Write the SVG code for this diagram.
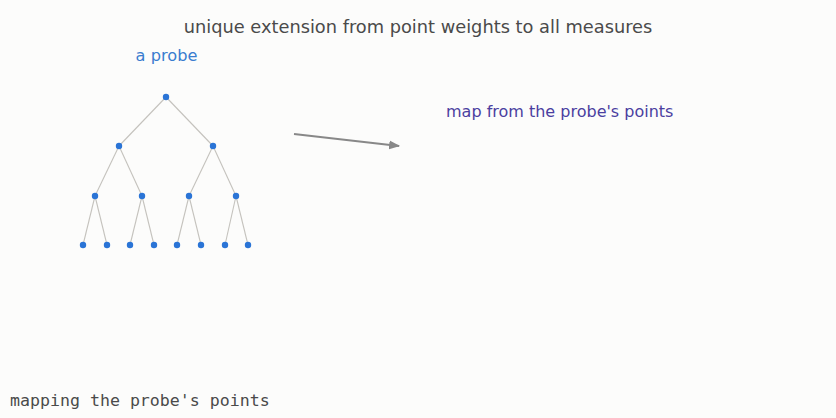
<svg xmlns="http://www.w3.org/2000/svg" width="836" height="418" viewBox="0 0 836 418">
<defs>
<marker id="ah" viewBox="0 0 10 10" refX="9" refY="5" markerWidth="5.5" markerHeight="5.5" orient="auto" markerUnits="strokeWidth">
<path d="M0,1 L10,5 L0,9 z" fill="#888888"/>
</marker>
<style>
.edge{stroke:#c4c2bd;stroke-width:1.1;fill:none}
.dot{fill:#2a74d6}
.t{font-family:"DejaVu Sans",sans-serif}
</style>
</defs>
<rect width="836" height="418" fill="#fcfcfb"/>
<text class="t" x="418" y="33" font-size="17.8" fill="#4a4a4a" text-anchor="middle">unique extension from point weights to all measures</text>
<text id="probe-label" class="t" x="166.5" y="61" font-size="16.2" fill="#3a7ccf" text-anchor="middle">a probe</text>
<g id="connectors">
<line class="edge" x1="166" y1="97" x2="119" y2="146"/>
<line class="edge" x1="166" y1="97" x2="213" y2="146"/>
<line class="edge" x1="119" y1="146" x2="95" y2="196"/>
<line class="edge" x1="119" y1="146" x2="142" y2="196"/>
<line class="edge" x1="213" y1="146" x2="189" y2="196"/>
<line class="edge" x1="213" y1="146" x2="236" y2="196"/>
<line class="edge" x1="95" y1="196" x2="83" y2="245"/>
<line class="edge" x1="95" y1="196" x2="107" y2="245"/>
<line class="edge" x1="142" y1="196" x2="130" y2="245"/>
<line class="edge" x1="142" y1="196" x2="154" y2="245"/>
<line class="edge" x1="189" y1="196" x2="177" y2="245"/>
<line class="edge" x1="189" y1="196" x2="201" y2="245"/>
<line class="edge" x1="236" y1="196" x2="225" y2="245"/>
<line class="edge" x1="236" y1="196" x2="248" y2="245"/>
<line x1="294" y1="134" x2="399" y2="146" stroke="#888888" stroke-width="2" marker-end="url(#ah)"/>
</g>
<g id="n0"><circle class="dot" cx="166" cy="97" r="3.2"/></g>
<g id="n1"><circle class="dot" cx="119" cy="146" r="3.2"/></g>
<g id="n2"><circle class="dot" cx="213" cy="146" r="3.2"/></g>
<g id="n3"><circle class="dot" cx="95" cy="196" r="3.2"/></g>
<g id="n4"><circle class="dot" cx="142" cy="196" r="3.2"/></g>
<g id="n5"><circle class="dot" cx="189" cy="196" r="3.2"/></g>
<g id="n6"><circle class="dot" cx="236" cy="196" r="3.2"/></g>
<g id="n7"><circle class="dot" cx="83" cy="245" r="3.2"/></g>
<g id="n8"><circle class="dot" cx="107" cy="245" r="3.2"/></g>
<g id="n9"><circle class="dot" cx="130" cy="245" r="3.2"/></g>
<g id="n10"><circle class="dot" cx="154" cy="245" r="3.2"/></g>
<g id="n11"><circle class="dot" cx="177" cy="245" r="3.2"/></g>
<g id="n12"><circle class="dot" cx="201" cy="245" r="3.2"/></g>
<g id="n13"><circle class="dot" cx="225" cy="245" r="3.2"/></g>
<g id="n14"><circle class="dot" cx="248" cy="245" r="3.2"/></g>
<text id="map-label" class="t" x="446" y="117" font-size="16" fill="#4b3fa0">map from the probe's points</text>
<text id="caption" x="10" y="406" font-size="16.6" fill="#4a4a4a" font-family="'DejaVu Sans Mono',monospace">mapping the probe's points</text>
</svg>
